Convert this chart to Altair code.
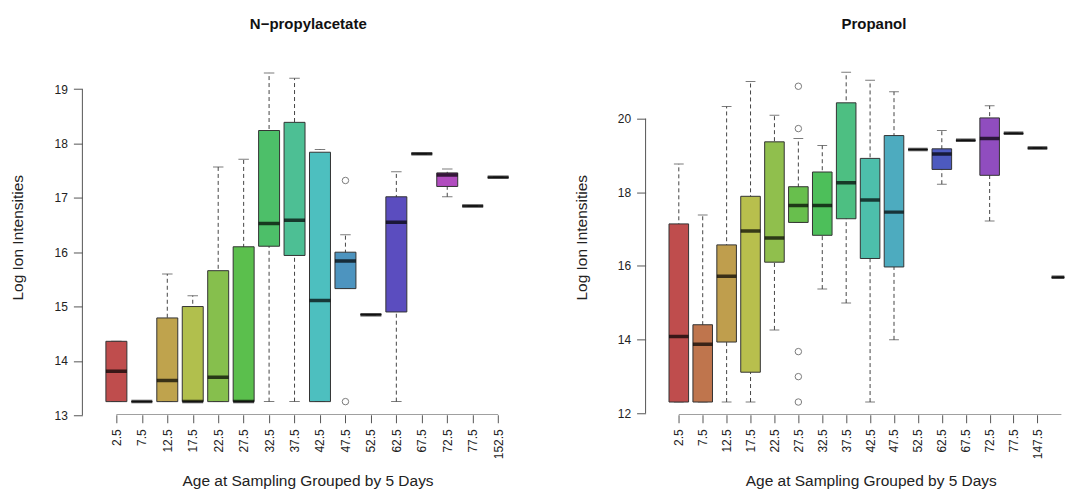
import json
import colorsys
import altair as alt
import pandas as pd

# ---------------- data: N-propylacetate ----------------
L_CATS = ["2.5", "7.5", "12.5", "17.5", "22.5", "27.5", "32.5", "37.5",
          "42.5", "47.5", "52.5", "62.5", "67.5", "72.5", "77.5", "152.5"]
L_LOW = [13.25, 13.25, 13.25, 13.25, 13.25, 13.25, 13.25, 13.25,
         13.25, 15.33, 14.85, 13.25, 17.81, 17.02, 16.85, 17.38]
L_Q1 = [13.25, 13.25, 13.25, 13.25, 13.25, 13.25, 16.11, 15.94,
        13.25, 15.33, 14.85, 14.90, 17.81, 17.21, 16.85, 17.38]
L_MED = [13.81, 13.25, 13.64, 13.25, 13.70, 13.25, 16.53, 16.59,
         15.11, 15.84, 14.85, 16.55, 17.81, 17.42, 16.85, 17.38]
L_Q3 = [14.36, 13.25, 14.79, 15.00, 15.66, 16.10, 18.24, 18.39,
        17.84, 16.00, 14.85, 17.02, 17.81, 17.46, 16.85, 17.38]
L_HIGH = [14.36, 13.25, 15.60, 15.20, 17.57, 17.71, 19.30, 19.20,
          17.89, 16.32, 14.85, 17.48, 17.81, 17.53, 16.85, 17.38]
L_OUT_CAT = ["47.5", "47.5"]
L_OUT_VAL = [17.32, 13.25]
L_YTICKS = [13, 14, 15, 16, 17, 18, 19]

# ---------------- data: Propanol ----------------
R_CATS = ["2.5", "7.5", "12.5", "17.5", "22.5", "27.5", "32.5", "37.5",
          "42.5", "47.5", "52.5", "62.5", "67.5", "72.5", "77.5", "147.5", "152.5"]
R_LOW = [12.30, 12.30, 12.30, 12.30, 14.26, 17.18, 15.37, 14.99,
         12.30, 13.99, 19.16, 18.22, 19.41, 17.22, 19.60, 19.20, 15.69]
R_Q1 = [12.30, 12.30, 13.93, 13.11, 16.10, 17.18, 16.83, 17.28,
        16.20, 15.97, 19.16, 18.62, 19.41, 18.46, 19.60, 19.20, 15.69]
R_MED = [14.08, 13.87, 15.72, 16.95, 16.76, 17.64, 17.64, 18.26,
         17.79, 17.46, 19.16, 19.04, 19.41, 19.46, 19.60, 19.20, 15.69]
R_Q3 = [17.14, 14.40, 16.57, 17.89, 19.37, 18.15, 18.55, 20.43,
        18.92, 19.54, 19.16, 19.18, 19.41, 20.02, 19.60, 19.20, 15.69]
R_HIGH = [18.77, 17.38, 20.33, 21.01, 20.09, 19.46, 19.27, 21.26,
          21.04, 20.73, 19.16, 19.68, 19.41, 20.35, 19.60, 19.20, 15.69]
R_OUT_CAT = ["27.5", "27.5", "27.5", "27.5", "27.5"]
R_OUT_VAL = [20.88, 19.73, 13.67, 12.99, 12.30]
R_YTICKS = [12, 14, 16, 18, 20]

FONT = "Liberation Sans"
AXIS_COL = "#555555"
TEXT_COL = "#222222"
H = 355.5


def rainbow(n, s=0.6, v=0.75):
    out = []
    for i in range(n):
        r, g, b = colorsys.hsv_to_rgb(i / n, s, v)
        out.append("#%02x%02x%02x" % (round(r * 255), round(g * 255), round(b * 255)))
    return out


def panel(title, cats, low, q1, med, q3, high, out_cat, out_val, yticks,
          ydom, xdom, width, box_w, n_labels, title_dx, xline_end):
    n = len(cats)
    colors = rainbow(n)
    df = pd.DataFrame({"pos": list(range(1, n + 1)), "cat": cats, "low": low,
                       "q1": q1, "med": med, "q3": q3, "high": high, "color": colors})
    odf = pd.DataFrame({"pos": [cats.index(c) + 1 for c in out_cat], "val": out_val})
    xaxis_df = pd.DataFrame({"pos": [1], "pos2": [xline_end]})
    yaxis_df = pd.DataFrame({"low": [yticks[0]], "high": [yticks[-1]]})

    xscale = alt.Scale(domain=xdom, nice=False, zero=False)
    yscale = alt.Scale(domain=ydom, nice=False, zero=False)
    label_expr = json.dumps(cats) + "[datum.value - 1]"
    xaxis = alt.Axis(values=list(range(1, n_labels + 1)), labelExpr=label_expr,
                     labelAngle=-90, domain=False, grid=False, tickSize=8,
                     tickColor=AXIS_COL, labelFontSize=12, labelColor=TEXT_COL,
                     labelPadding=6, labelOverlap=False, labelFlush=False,
                     labelFont=FONT, title="Age at Sampling Grouped by 5 Days",
                     titleFont=FONT, titleFontSize=15.5, titleFontWeight="normal",
                     titleColor=TEXT_COL, titleX=225.5, titleY=71,
                     titleBaseline="alphabetic", titleAlign="center")
    yaxis = alt.Axis(values=yticks, domain=False, grid=False, tickSize=9,
                     tickColor=AXIS_COL, labelFontSize=12, labelColor=TEXT_COL,
                     labelPadding=6, labelFont=FONT, labelAngle=0, format="d",
                     title="Log Ion Intensities", titleFont=FONT, titleFontSize=15.5,
                     titleFontWeight="normal", titleColor=TEXT_COL, titleAngle=-90,
                     titleX=-59.5, titleY=H / 2, titleBaseline="alphabetic",
                     titleAlign="center")

    def X(f):
        return alt.X(f, type="quantitative", scale=xscale, axis=xaxis)

    def Y(f):
        return alt.Y(f, type="quantitative", scale=yscale, axis=yaxis)

    base = alt.Chart(df)
    whisk = base.mark_rule(strokeDash=[4, 3], color="#444444", strokeWidth=1, clip=True).encode(
        x=X("pos"), y=Y("low"), y2="high")
    cap_lo = base.mark_tick(orient="horizontal", size=box_w / 2, thickness=1,
                            color="#444444", clip=True).encode(x=X("pos"), y=Y("low"))
    cap_hi = base.mark_tick(orient="horizontal", size=box_w / 2, thickness=1,
                            color="#444444", clip=True).encode(x=X("pos"), y=Y("high"))
    box = base.mark_bar(size=box_w, stroke="#333333", strokeWidth=1, clip=True).encode(
        x=X("pos"), y=Y("q1"), y2="q3", fill=alt.Fill("color:N", scale=None))
    medl = base.mark_tick(orient="horizontal", size=box_w, thickness=3.5,
                          color="#000000", clip=True).encode(x=X("pos"), y=Y("med"))
    outl = alt.Chart(odf).mark_point(shape="circle", filled=False, size=42,
                                     stroke="#444444", strokeWidth=1, clip=True).encode(
        x=X("pos"), y=Y("val"))
    xline = alt.Chart(xaxis_df).mark_rule(color=AXIS_COL, strokeWidth=1, clip=True).encode(
        x=X("pos"), x2="pos2", y=alt.value(H))
    yline = alt.Chart(yaxis_df).mark_rule(color=AXIS_COL, strokeWidth=1).encode(
        x=alt.value(0), y=Y("low"), y2="high")

    return alt.layer(whisk, cap_lo, cap_hi, box, medl, outl, xline, yline).properties(
        width=width, height=H,
        title=alt.TitleParams(title, font=FONT, fontSize=15, fontWeight="bold",
                              color="#111111", anchor="middle", frame="group",
                              offset=15.5, baseline="alphabetic", dx=title_dx))


left = panel("N\u2212propylacetate", L_CATS, L_LOW, L_Q1, L_MED, L_Q3, L_HIGH,
             L_OUT_CAT, L_OUT_VAL, L_YTICKS, [13.008, 19.542], [-0.14, 17.14],
             450.4, 21, 16, 1, 16)
right = panel("Propanol", R_CATS, R_LOW, R_Q1, R_MED, R_Q3, R_HIGH,
              R_OUT_CAT, R_OUT_VAL, R_YTICKS, [11.954, 21.60],
              [-0.18, -0.18 + 419.3 / 24.53], 419.3, 19.6, 16, 19, 17)

chart = alt.hconcat(left, right, spacing=113, bounds="flush").properties(
    padding={"left": 10.5, "top": 16.5, "right": 0, "bottom": 0}
).configure(font=FONT, background="white").configure_view(stroke=None)

chart.save("out.html", embed_options={"renderer": "svg", "actions": False})
